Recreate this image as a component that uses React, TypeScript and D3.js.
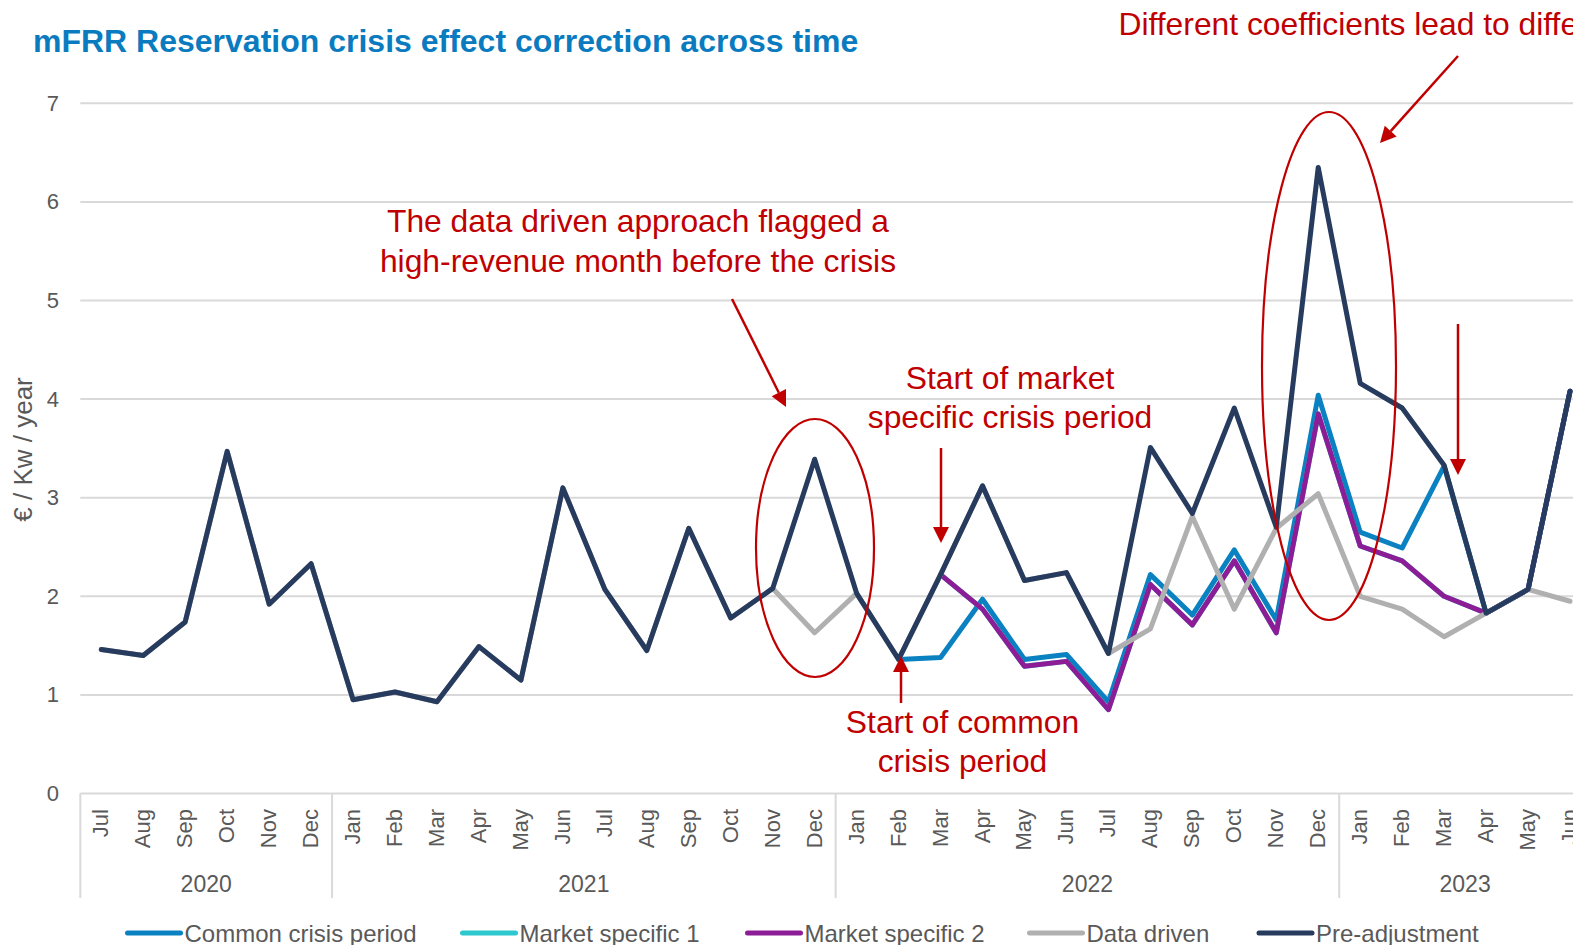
import React from "react";
import * as d3 from "d3";

const MONTHS = [
  "Jul", "Aug", "Sep", "Oct", "Nov", "Dec",
  "Jan", "Feb", "Mar", "Apr", "May", "Jun", "Jul", "Aug", "Sep", "Oct", "Nov", "Dec",
  "Jan", "Feb", "Mar", "Apr", "May", "Jun", "Jul", "Aug", "Sep", "Oct", "Nov", "Dec",
  "Jan", "Feb", "Mar", "Apr", "May", "Jun",
];
const YEAR_LABELS = ["2020", "2021", "2022", "2023"];
const YEAR_SPANS = [6, 12, 12, 6];
const Y_TICKS = [0, 1, 2, 3, 4, 5, 6, 7];

type V = number | null;

const COMMON_CRISIS: V[] = [
  null, null, null, null, null, null,
  null, null, null, null, null, null, null, null, null, null, null, null,
  null, 1.36, 1.38, 1.97, 1.36, 1.41, 0.93, 2.22, 1.81, 2.47, 1.76, 4.04,
  2.65, 2.49, 3.32, 1.83, 2.07, 4.08,
];
const MARKET_SPECIFIC_1: V[] = [
  null, null, null, null, null, null,
  null, null, null, null, null, null, null, null, null, null, null, null,
  null, null, 2.22, 1.87, 1.29, 1.34, 0.85, 2.12, 1.71, 2.36, 1.63, 3.85,
  2.51, 2.36, 2.0, 1.83, 2.07, 4.08,
];
const MARKET_SPECIFIC_2: V[] = [
  null, null, null, null, null, null,
  null, null, null, null, null, null, null, null, null, null, null, null,
  null, null, 2.22, 1.87, 1.29, 1.34, 0.85, 2.12, 1.71, 2.36, 1.63, 3.85,
  2.51, 2.36, 2.0, 1.83, 2.07, 4.08,
];
const DATA_DRIVEN: V[] = [
  1.46, 1.4, 1.74, 3.47, 1.92, 2.33,
  0.95, 1.03, 0.93, 1.49, 1.15, 3.1, 2.07, 1.45, 2.69, 1.78, 2.08, 1.63,
  2.03, 1.36, 2.22, 3.12, 2.16, 2.24, 1.42, 1.67, 2.81, 1.87, 2.69, 3.04,
  2.0, 1.87, 1.59, 1.83, 2.07, 1.95,
];
const PRE_ADJUSTMENT: V[] = [
  1.46, 1.4, 1.74, 3.47, 1.92, 2.33,
  0.95, 1.03, 0.93, 1.49, 1.15, 3.1, 2.07, 1.45, 2.69, 1.78, 2.08, 3.39,
  2.03, 1.36, 2.22, 3.12, 2.16, 2.24, 1.42, 3.51, 2.84, 3.91, 2.7, 6.35,
  4.16, 3.91, 3.33, 1.83, 2.07, 4.08,
];

const SERIES_NAMES = ["Common crisis period", "Market specific 1", "Market specific 2", "Data driven", "Pre-adjustment"];
const SERIES_VALUES = [COMMON_CRISIS, MARKET_SPECIFIC_1, MARKET_SPECIFIC_2, DATA_DRIVEN, PRE_ADJUSTMENT];
const SERIES_COLORS = ["#0a81c0", "#2ec8cf", "#8c1d97", "#b0b0b0", "#263b5e"];

const FONT = "'Liberation Sans', Arial, Helvetica, sans-serif";
const RED = "#c00000";
const TEXT_GRAY = "#595959";
const GRID = "#d9d9d9";

function Arrow({ x1, y1, x2, y2 }: { x1: number; y1: number; x2: number; y2: number }) {
  const ang = Math.atan2(y2 - y1, x2 - x1);
  const len = 16;
  const half = 8;
  const bx = x2 - len * Math.cos(ang);
  const by = y2 - len * Math.sin(ang);
  const px = -Math.sin(ang) * half;
  const py = Math.cos(ang) * half;
  return (
    <g>
      <line x1={x1} y1={y1} x2={bx} y2={by} stroke={RED} strokeWidth={2.5} />
      <polygon points={`${x2},${y2} ${bx + px},${by + py} ${bx - px},${by - py}`} fill={RED} />
    </g>
  );
}

export default function App() {
  const W = 1573;
  const H = 945;
  const left = 80.3;
  const right = 1591;
  const top = 103.3;
  const bottom = 793.5;

  const x = d3.scaleBand<number>().domain(d3.range(MONTHS.length)).range([left, right]);
  const bw = x.bandwidth();
  const cx = (i: number) => (x(i) as number) + bw / 2;
  const y = d3.scaleLinear().domain([0, 7]).range([bottom, top]);

  const line = d3
    .line<V>()
    .defined((d) => d !== null)
    .x((_, i) => cx(i))
    .y((d) => y(d as number));

  const yearStarts: number[] = [];
  let acc = 0;
  YEAR_SPANS.forEach((s) => {
    yearStarts.push(acc);
    acc += s;
  });

  const legendX = [127.5, 462.5, 747.5, 1029.5, 1259];

  return (
    <svg
      width={W}
      height={H}
      style={{ position: "absolute", left: 0, top: 0, background: "#fff", fontFamily: FONT }}
    >
      <rect x={0} y={0} width={W} height={H} fill="#fff" />
      <text x={33} y={52} fill="#0b7bc0" fontSize={32} fontWeight="bold">
        mFRR Reservation crisis effect correction across time
      </text>

      {Y_TICKS.map((t) => (
        <g key={t}>
          <line x1={left} x2={right} y1={y(t)} y2={y(t)} stroke={GRID} strokeWidth={2} />
          <text x={59} y={y(t) + 7.5} textAnchor="end" fill={TEXT_GRAY} fontSize={22}>
            {t}
          </text>
        </g>
      ))}

      <text
        transform={`translate(32,${449.5}) rotate(-90)`}
        textAnchor="middle"
        fill={TEXT_GRAY}
        fontSize={26}
      >
        € / Kw / year
      </text>

      {yearStarts.map((s, i) => (
        <line key={"sep" + i} x1={x(s) as number} x2={x(s) as number} y1={bottom} y2={898} stroke={GRID} strokeWidth={2} />
      ))}
      <line x1={right} x2={right} y1={bottom} y2={898} stroke={GRID} strokeWidth={2} />
      {MONTHS.map((m, i) => (
        <text
          key={"m" + i}
          transform={`translate(${cx(i) + 7},${809}) rotate(-90)`}
          textAnchor="end"
          fill={TEXT_GRAY}
          fontSize={22}
        >
          {m}
        </text>
      ))}
      {YEAR_LABELS.map((lab, i) => {
        const s = yearStarts[i];
        const e = s + YEAR_SPANS[i] - 1;
        const mid = ((x(s) as number) + (x(e) as number) + bw) / 2;
        return (
          <text key={lab} x={mid} y={892} textAnchor="middle" fill={TEXT_GRAY} fontSize={23}>
            {lab}
          </text>
        );
      })}

      {SERIES_VALUES.map((vals, i) => (
        <path
          key={SERIES_NAMES[i]}
          d={line(vals) || ""}
          fill="none"
          stroke={SERIES_COLORS[i]}
          strokeWidth={5}
          strokeLinejoin="round"
          strokeLinecap="round"
        />
      ))}

      <g fill={RED} fontSize={31.8} textAnchor="middle">
        <text x={638} y={232}>The data driven approach flagged a</text>
        <text x={638} y={272}>high-revenue month before the crisis</text>
        <text x={1010} y={389}>Start of market</text>
        <text x={1010} y={428}>specific crisis period</text>
        <text x={962.5} y={733}>Start of common</text>
        <text x={962.5} y={772}>crisis period</text>
        <text x={1118.5} y={35} textAnchor="start">Different coefficients lead to different results</text>
      </g>
      <ellipse cx={815} cy={548} rx={59} ry={129} fill="none" stroke={RED} strokeWidth={2.2} />
      <ellipse cx={1329} cy={366} rx={67} ry={254} fill="none" stroke={RED} strokeWidth={2.2} />
      <Arrow x1={732} y1={299} x2={786} y2={407} />
      <Arrow x1={941} y1={448} x2={941} y2={543} />
      <Arrow x1={901} y1={703} x2={901} y2={656} />
      <Arrow x1={1458} y1={56} x2={1380} y2={143} />
      <Arrow x1={1458} y1={324} x2={1458} y2={475} />

      {SERIES_NAMES.map((n, i) => (
        <g key={"lg" + i}>
          <line
            x1={legendX[i]}
            x2={legendX[i] + 53}
            y1={933}
            y2={933}
            stroke={SERIES_COLORS[i]}
            strokeWidth={5}
            strokeLinecap="round"
          />
          <text x={legendX[i] + 57} y={941.5} fill={TEXT_GRAY} fontSize={24}>
            {n}
          </text>
        </g>
      ))}
    </svg>
  );
}
